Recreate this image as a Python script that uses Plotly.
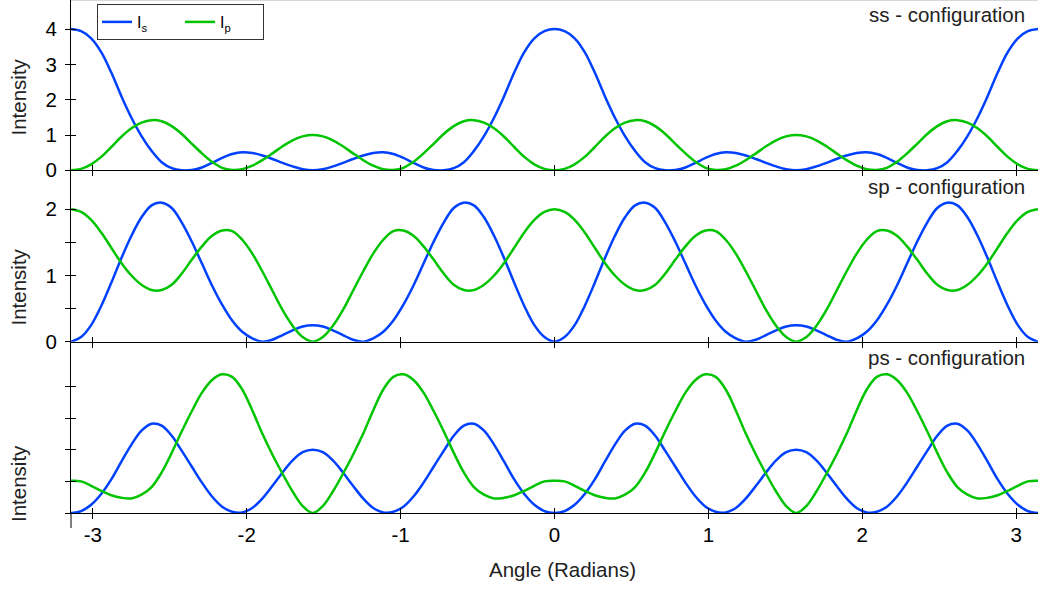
import plotly.graph_objects as go

# Angle samples (radians), step pi/48 from -pi to pi
angle = [-3.1416, -3.0761, -3.0107, -2.9452, -2.8798, -2.8143, -2.7489, -2.6834,
         -2.6180, -2.5525, -2.4871, -2.4216, -2.3562, -2.2907, -2.2253, -2.1598,
         -2.0944, -2.0289, -1.9635, -1.8980, -1.8326, -1.7671, -1.7017, -1.6362,
         -1.5708, -1.5053, -1.4399, -1.3744, -1.3090, -1.2435, -1.1781, -1.1126,
         -1.0472, -0.9817, -0.9163, -0.8508, -0.7854, -0.7199, -0.6545, -0.5890,
         -0.5236, -0.4581, -0.3927, -0.3272, -0.2618, -0.1963, -0.1309, -0.0654,
         0.0000, 0.0654, 0.1309, 0.1963, 0.2618, 0.3272, 0.3927, 0.4581,
         0.5236, 0.5890, 0.6545, 0.7199, 0.7854, 0.8508, 0.9163, 0.9817,
         1.0472, 1.1126, 1.1781, 1.2435, 1.3090, 1.3744, 1.4399, 1.5053,
         1.5708, 1.6362, 1.7017, 1.7671, 1.8326, 1.8980, 1.9635, 2.0289,
         2.0944, 2.1598, 2.2253, 2.2907, 2.3562, 2.4216, 2.4871, 2.5525,
         2.6180, 2.6834, 2.7489, 2.8143, 2.8798, 2.9452, 3.0107, 3.0761, 3.1416]

# ss - configuration
ss_is = [4.00, 3.94, 3.74, 3.35, 2.77, 2.10, 1.49, 0.97, 0.55, 0.23, 0.06, 0.00,
         0.01, 0.08, 0.21, 0.35, 0.46, 0.51, 0.49, 0.42, 0.32, 0.21, 0.11, 0.03,
         0.00, 0.03, 0.11, 0.21, 0.32, 0.42, 0.49, 0.51, 0.46, 0.35, 0.21, 0.08,
         0.01, 0.00, 0.06, 0.23, 0.55, 0.97, 1.49, 2.10, 2.77, 3.35, 3.74, 3.94,
         4.00, 3.94, 3.74, 3.35, 2.77, 2.10, 1.49, 0.97, 0.55, 0.23, 0.06, 0.00,
         0.01, 0.08, 0.21, 0.35, 0.46, 0.51, 0.49, 0.42, 0.32, 0.21, 0.11, 0.03,
         0.00, 0.03, 0.11, 0.21, 0.32, 0.42, 0.49, 0.51, 0.46, 0.35, 0.21, 0.08,
         0.01, 0.00, 0.06, 0.23, 0.55, 0.97, 1.49, 2.10, 2.77, 3.35, 3.74, 3.94, 4.00]
ss_ip = [0.00, 0.04, 0.17, 0.38, 0.66, 0.95, 1.19, 1.35, 1.42, 1.39, 1.25, 1.03,
         0.75, 0.48, 0.24, 0.07, 0.01, 0.03, 0.13, 0.29, 0.48, 0.68, 0.85, 0.96,
         1.00, 0.96, 0.85, 0.68, 0.48, 0.29, 0.13, 0.03, 0.01, 0.07, 0.24, 0.48,
         0.75, 1.03, 1.25, 1.39, 1.42, 1.35, 1.19, 0.95, 0.66, 0.38, 0.17, 0.04,
         0.00, 0.04, 0.17, 0.38, 0.66, 0.95, 1.19, 1.35, 1.42, 1.39, 1.25, 1.03,
         0.75, 0.48, 0.24, 0.07, 0.01, 0.03, 0.13, 0.29, 0.48, 0.68, 0.85, 0.96,
         1.00, 0.96, 0.85, 0.68, 0.48, 0.29, 0.13, 0.03, 0.01, 0.07, 0.24, 0.48,
         0.75, 1.03, 1.25, 1.39, 1.42, 1.35, 1.19, 0.95, 0.66, 0.38, 0.17, 0.04, 0.00]

# sp - configuration
sp_is = [0.00, 0.07, 0.25, 0.54, 0.89, 1.26, 1.60, 1.88, 2.06, 2.10, 2.02, 1.80,
         1.51, 1.18, 0.85, 0.56, 0.32, 0.15, 0.05, 0.00, 0.03, 0.10, 0.17, 0.23,
         0.25, 0.23, 0.17, 0.10, 0.03, 0.00, 0.05, 0.15, 0.32, 0.56, 0.85, 1.18,
         1.51, 1.80, 2.02, 2.10, 2.06, 1.88, 1.60, 1.26, 0.89, 0.54, 0.25, 0.07,
         0.00, 0.07, 0.25, 0.54, 0.89, 1.26, 1.60, 1.88, 2.06, 2.10, 2.02, 1.80,
         1.51, 1.18, 0.85, 0.56, 0.32, 0.15, 0.05, 0.00, 0.03, 0.10, 0.17, 0.23,
         0.25, 0.23, 0.17, 0.10, 0.03, 0.00, 0.05, 0.15, 0.32, 0.56, 0.85, 1.18,
         1.51, 1.80, 2.02, 2.10, 2.06, 1.88, 1.60, 1.26, 0.89, 0.54, 0.25, 0.07, 0.00]
sp_ip = [2.00, 1.96, 1.84, 1.65, 1.42, 1.19, 1.00, 0.86, 0.78, 0.78, 0.86, 1.03,
         1.24, 1.44, 1.60, 1.68, 1.67, 1.54, 1.33, 1.06, 0.77, 0.48, 0.24, 0.07,
         0.00, 0.07, 0.24, 0.48, 0.77, 1.06, 1.33, 1.54, 1.67, 1.68, 1.60, 1.44,
         1.24, 1.03, 0.86, 0.78, 0.78, 0.86, 1.00, 1.19, 1.42, 1.65, 1.84, 1.96,
         2.00, 1.96, 1.84, 1.65, 1.42, 1.19, 1.00, 0.86, 0.78, 0.78, 0.86, 1.03,
         1.24, 1.44, 1.60, 1.68, 1.67, 1.54, 1.33, 1.06, 0.77, 0.48, 0.24, 0.07,
         0.00, 0.07, 0.24, 0.48, 0.77, 1.06, 1.33, 1.54, 1.67, 1.68, 1.60, 1.44,
         1.24, 1.03, 0.86, 0.78, 0.78, 0.86, 1.00, 1.19, 1.42, 1.65, 1.84, 1.96, 2.00]

# ps - configuration
ps_is = [0.00, 0.03, 0.13, 0.30, 0.53, 0.81, 1.08, 1.30, 1.41, 1.38, 1.22, 0.98,
         0.73, 0.48, 0.26, 0.10, 0.02, 0.01, 0.08, 0.23, 0.43, 0.64, 0.83, 0.96,
         1.00, 0.96, 0.83, 0.64, 0.43, 0.23, 0.08, 0.01, 0.02, 0.10, 0.26, 0.48,
         0.73, 0.98, 1.22, 1.38, 1.41, 1.30, 1.08, 0.81, 0.53, 0.30, 0.13, 0.03,
         0.00, 0.03, 0.13, 0.30, 0.53, 0.81, 1.08, 1.30, 1.41, 1.38, 1.22, 0.98,
         0.73, 0.48, 0.26, 0.10, 0.02, 0.01, 0.08, 0.23, 0.43, 0.64, 0.83, 0.96,
         1.00, 0.96, 0.83, 0.64, 0.43, 0.23, 0.08, 0.01, 0.02, 0.10, 0.26, 0.48,
         0.73, 0.98, 1.22, 1.38, 1.41, 1.30, 1.08, 0.81, 0.53, 0.30, 0.13, 0.03, 0.00]
ps_ip = [0.51, 0.50, 0.43, 0.35, 0.28, 0.24, 0.23, 0.29, 0.41, 0.64, 0.95, 1.29,
         1.61, 1.90, 2.10, 2.19, 2.15, 1.95, 1.62, 1.25, 0.92, 0.62, 0.34, 0.11,
         0.00, 0.11, 0.34, 0.62, 0.92, 1.25, 1.62, 1.95, 2.15, 2.19, 2.10, 1.90,
         1.61, 1.29, 0.95, 0.64, 0.41, 0.29, 0.23, 0.24, 0.28, 0.35, 0.43, 0.50,
         0.51, 0.50, 0.43, 0.35, 0.28, 0.24, 0.23, 0.29, 0.41, 0.64, 0.95, 1.29,
         1.61, 1.90, 2.10, 2.19, 2.15, 1.95, 1.62, 1.25, 0.92, 0.62, 0.34, 0.11,
         0.00, 0.11, 0.34, 0.62, 0.92, 1.25, 1.62, 1.95, 2.15, 2.19, 2.10, 1.90,
         1.61, 1.29, 0.95, 0.64, 0.41, 0.29, 0.23, 0.24, 0.28, 0.35, 0.43, 0.50, 0.51]

panel_names = ["ss - configuration", "sp - configuration", "ps - configuration"]
x_ticks = [-3, -2, -1, 0, 1, 2, 3]
x_ticktext = ["-3", "-2", "-1", "0", "1", "2", "3"]

BLUE = "#0041FF"
GREEN = "#00C400"
FONT = "Liberation Sans, Arial, sans-serif"
TEXT = "#222222"
FS = 20.5

W, H = 1038, 592
ML, MR, MT, MB = 71, 0, 0, 79
PW, PH = W - ML - MR, H - MT - MB


def px_x(px):
    return (px - ML) / PW


def px_y(py):
    return 1 - (py - MT) / PH


# panel boundaries in pixel rows: 0 | 170 | 342 | 513
dom_top = [px_y(170.3), 1.0]
dom_mid = [px_y(341.7), px_y(170.3)]
dom_bot = [0.0, px_y(341.7)]

x_range = [-3.1416, 3.1416]
y_ranges = [[0, 4.824], [0, 2.589], [0, 2.705]]

fig = go.Figure()

series = [(ss_is, ss_ip), (sp_is, sp_ip), (ps_is, ps_ip)]
for i, (s_vals, p_vals) in enumerate(series):
    xa = "x" if i == 0 else f"x{i + 1}"
    ya = "y" if i == 0 else f"y{i + 1}"
    fig.add_trace(go.Scatter(
        x=angle, y=s_vals, mode="lines", name="I<sub>s</sub>",
        line=dict(color=BLUE, width=2.5, shape="spline", smoothing=1),
        showlegend=(i == 0), legendgroup="s", xaxis=xa, yaxis=ya))
    fig.add_trace(go.Scatter(
        x=angle, y=p_vals, mode="lines", name="I<sub>p</sub>",
        line=dict(color=GREEN, width=2.5, shape="spline", smoothing=1),
        showlegend=(i == 0), legendgroup="p", xaxis=xa, yaxis=ya))

# empty traces so the overlay subplots (inner half of the crossing ticks) exist
for k in (4, 5, 6):
    fig.add_trace(go.Scatter(x=[None], y=[None], xaxis=f"x{k}", yaxis=f"y{k}",
                             showlegend=False, hoverinfo="skip"))

axis_base = dict(showline=True, linecolor="black", linewidth=1, ticks="outside",
                 ticklen=5, tickcolor="black", tickwidth=1, showgrid=False,
                 zeroline=False, fixedrange=True)
inner_base = dict(showline=False, ticks="inside", ticklen=5, tickcolor="black",
                  tickwidth=1, showgrid=False, zeroline=False,
                  showticklabels=False, fixedrange=True)
tick_font = dict(family=FONT, size=FS, color="black")

y_major = [[0, 1, 2, 3, 4], [0, 1, 2], [0, 0.5, 1, 1.5, 2]]
y_minor = [None, [0.5, 1.5], None]
y_labels = [True, True, False]
domains = [dom_top, dom_mid, dom_bot]

layout_axes = {}
for i in range(3):
    xn = "xaxis" if i == 0 else f"xaxis{i + 1}"
    yn = "yaxis" if i == 0 else f"yaxis{i + 1}"
    ya = "y" if i == 0 else f"y{i + 1}"
    xa = "x" if i == 0 else f"x{i + 1}"
    layout_axes[xn] = dict(axis_base, range=x_range, anchor=ya, domain=[0, 1],
                           tickvals=x_ticks, ticktext=x_ticktext,
                           showticklabels=(i == 2),
                           tickfont=tick_font, ticklabelstandoff=-2)
    layout_axes[yn] = dict(axis_base, range=y_ranges[i], anchor=xa, domain=domains[i],
                           tickvals=y_major[i], showticklabels=y_labels[i],
                           tickfont=tick_font, ticklabelstandoff=4)
    k = i + 4
    layout_axes[f"xaxis{k}"] = dict(inner_base, range=x_range, overlaying=xa,
                                    anchor=f"y{k}", tickvals=x_ticks)
    layout_axes[f"yaxis{k}"] = dict(inner_base, range=y_ranges[i], overlaying=ya,
                                    anchor=f"x{k}", tickvals=y_major[i], side="left")
    if y_minor[i]:
        layout_axes[yn]["minor"] = dict(tickvals=y_minor[i], ticks="outside", ticklen=5,
                                        tickcolor="black", tickwidth=1, showgrid=False)
        layout_axes[f"yaxis{k}"]["minor"] = dict(tickvals=y_minor[i], ticks="inside",
                                                 ticklen=5, tickcolor="black",
                                                 tickwidth=1, showgrid=False)

annotations = []
# x-axis title
annotations.append(dict(text="Angle (Radians)", xref="paper", yref="paper",
                        x=px_x(562.5), y=px_y(569), xanchor="center", yanchor="middle",
                        showarrow=False, font=dict(family=FONT, size=FS, color=TEXT)))
# y-axis titles
for yc in (97.5, 287.5, 484):
    annotations.append(dict(text="Intensity", textangle=-90, xref="paper", yref="paper",
                            x=px_x(18), y=px_y(yc), xanchor="center", yanchor="middle",
                            showarrow=False, font=dict(family=FONT, size=FS, color=TEXT)))
# panel names
for name, yc in zip(panel_names, (15, 186.5, 357)):
    annotations.append(dict(text=name, xref="paper", yref="paper",
                            x=px_x(1027), y=px_y(yc), xanchor="right", yanchor="middle",
                            showarrow=False, font=dict(family=FONT, size=FS, color=TEXT)))

fig.update_layout(
    width=W, height=H,
    margin=dict(l=ML, r=MR, t=MT, b=MB, pad=0),
    paper_bgcolor="white", plot_bgcolor="white",
    font=dict(family=FONT, color=TEXT),
    showlegend=True,
    legend=dict(orientation="h", x=px_x(97), y=px_y(4), xanchor="left", yanchor="top",
                bordercolor="#333333", borderwidth=1, bgcolor="white",
                font=dict(family=FONT, size=16, color="black"),
                entrywidth=38, entrywidthmode="pixels", itemwidth=30),
    annotations=annotations,
    shapes=[
        dict(type="line", xref="paper", yref="paper", x0=0, x1=1, y0=1, y1=1,
             line=dict(color="#d8d8d8", width=2)),
        # left axis line continues a little below the bottom panel
        dict(type="line", xref="paper", yref="paper", x0=0, x1=0,
             y0=px_y(513), y1=px_y(528), line=dict(color="black", width=1)),
    ],
    **layout_axes,
)

fig.write_html("out.html")
